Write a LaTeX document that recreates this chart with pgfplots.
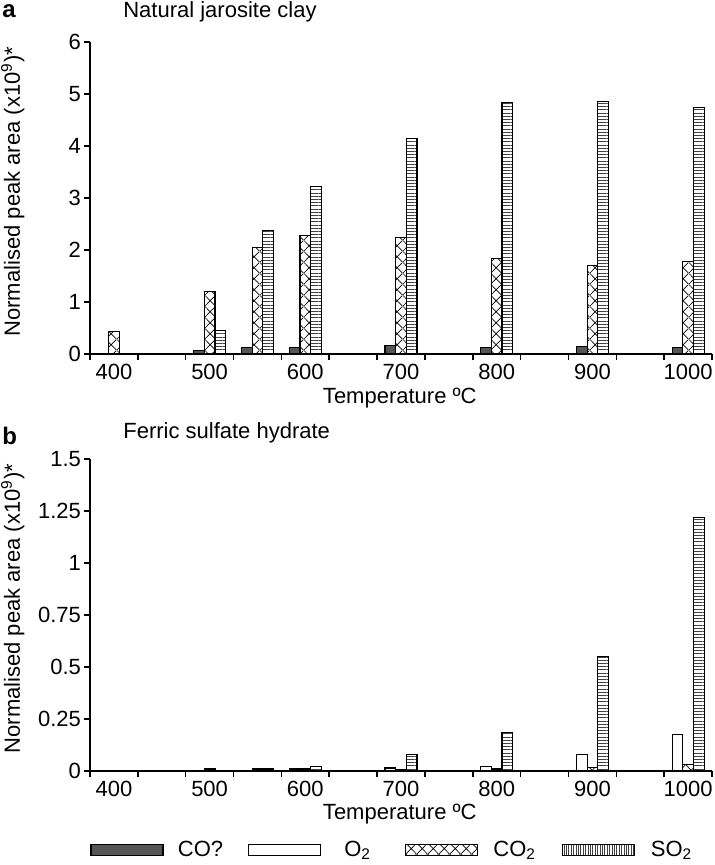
\documentclass[border=0pt]{standalone}
\usepackage{pgfplots}
\pgfplotsset{compat=1.18}
\usepackage{fontspec}
\setmainfont{Liberation Sans}
\usetikzlibrary{patterns,patterns.meta}

\definecolor{cogray}{HTML}{555555}

% diamond cross-hatch used for the CO2 bars
\pgfdeclarepatternformonly{xhatch}{\pgfpointorigin}{\pgfqpoint{5.34pt}{5.6pt}}{\pgfqpoint{5.34pt}{5.6pt}}{%
  \pgfsetlinewidth{0.35pt}%
  \pgfpathmoveto{\pgfpointorigin}\pgfpathlineto{\pgfqpoint{5.34pt}{5.6pt}}%
  \pgfpathmoveto{\pgfqpoint{0pt}{5.6pt}}\pgfpathlineto{\pgfqpoint{5.34pt}{0pt}}%
  \pgfusepath{stroke}}

\newcommand{\fs}{\fontsize{11}{13}\selectfont}

\pgfplotsset{
  panel/.style={
    scale only axis, width=311pt, clip=false,
    axis lines*=left, axis line style={line width=0.8pt},
    xmin=-0.5, xmax=12.5, ymin=0,
    xtick={0,2,4,6,8,10,12},
    xticklabels={400,500,600,700,800,900,1000},
    minor xtick={-0.5,0.5,...,12.5},
    tick align=outside, tick style={black, line width=0.8pt},
    major tick length=3pt, minor tick length=3pt,
    major x tick style={draw=none},
    tick label style={font=\fs},
    xticklabel style={yshift=1.5pt},
    yticklabel style={xshift=2pt},
    label style={font=\fs},
    /pgf/number format/assume math mode=true,
    xlabel={Temperature ºC},
    ylabel={Normalised peak area (x10\textsuperscript{9})*},
    xlabel style={at={(axis description cs:0.498,-0.14)}, anchor=center},
    ylabel style={at={(axis description cs:-0.124,0.52)}, anchor=center},
  },
  b1/.style={ybar, bar width=5.34pt, bar shift=-5.34pt, draw=black, line width=0.55pt},
  b2/.style={ybar, bar width=5.34pt, bar shift=0pt, draw=black, line width=0.55pt},
  b3/.style={ybar, bar width=5.34pt, bar shift=5.34pt, draw=black, line width=0.55pt},
  so2/.style={pattern={Lines[angle=0,distance=1.6pt,line width=0.45pt]}, pattern color=black!75},
}

\begin{document}
\begin{tikzpicture}

% (a) natural jarosite clay; x index 0..12 = 400..1000 step 50
\begin{axis}[panel, at={(0pt,0pt)}, anchor=south west, height=156pt,
  ymax=6, ytick={0,1,2,3,4,5,6}, yticklabels={0,1,2,3,4,5,6}]
\addplot[b1, fill=cogray] coordinates
  {(2,0.064) (3,0.13) (4,0.13) (6,0.16) (8,0.13) (10,0.14) (12,0.12)};
\addplot[b2, pattern=xhatch] coordinates
  {(0,0.44) (2,1.21) (3,2.05) (4,2.28) (6,2.24) (8,1.83) (10,1.71) (12,1.78)};
\addplot[b3, so2] coordinates
  {(2,0.46) (3,2.37) (4,3.22) (6,4.14) (8,4.83) (10,4.85) (12,4.74)};
\node[anchor=base west, inner sep=0pt, font=\fontsize{12}{14}\selectfont\bfseries] at (rel axis cs:-0.1415,1.080) {a};
\node[anchor=base west, inner sep=0pt, font=\fs] at (rel axis cs:0.053,1.077) {Natural jarosite clay};
\end{axis}

% (b) ferric sulfate hydrate
\begin{axis}[panel, at={(0pt,-208.35pt)}, anchor=south west, height=155.85pt,
  ymax=1.5, ytick={0,0.25,0.5,0.75,1,1.25,1.5},
  yticklabels={0,0.25,0.5,0.75,1,1.25,1.5},
  legend columns=4,
  legend style={draw=none, at={(axis description cs:0,-0.254)}, anchor=west,
    font=\fs, inner sep=0pt, nodes={inner sep=0pt},
    /tikz/every odd column/.append style={column sep=3.5pt},
    /tikz/every even column/.append style={column sep=8.5pt}},
  legend image code/.code={\draw[#1] (0pt,-2.75pt) rectangle (36pt,2.75pt);}]
\addplot[b1, fill=white, forget plot] coordinates
  {(4,0.008) (6,0.013) (8,0.019) (10,0.077) (12,0.173)};
\addplot[b2, pattern=xhatch, forget plot] coordinates
  {(2,0.008) (3,0.008) (4,0.008) (6,0.007) (8,0.008) (10,0.016) (12,0.03)};
\addplot[b3, so2, forget plot] coordinates
  {(3,0.008) (4,0.022) (6,0.077) (8,0.186) (10,0.55) (12,1.22)};
\addlegendimage{draw=black, line width=0.55pt, fill=cogray}
\addlegendentry{\makebox[30pt]{CO?}}
\addlegendimage{draw=black, line width=0.55pt, fill=white}
\addlegendentry{\makebox[30pt]{O\textsubscript{2}}}
\addlegendimage{draw=black, line width=0.55pt, pattern=xhatch}
\addlegendentry{\makebox[30pt]{CO\textsubscript{2}}}
\addlegendimage{draw=black, line width=0.55pt, pattern={Lines[angle=90,distance=1.2pt,line width=0.4pt]}, pattern color=black!75}
\addlegendentry{\makebox[30pt]{SO\textsubscript{2}}}
\node[anchor=base west, inner sep=0pt, font=\fontsize{12}{14}\selectfont\bfseries] at (rel axis cs:-0.1415,1.045) {b};
\node[anchor=base west, inner sep=0pt, font=\fs] at (rel axis cs:0.053,1.067) {Ferric sulfate hydrate};
\end{axis}

\pgfresetboundingbox
\useasboundingbox (-45pt,177pt) rectangle (312pt,-255.5pt);
\end{tikzpicture}
\end{document}
